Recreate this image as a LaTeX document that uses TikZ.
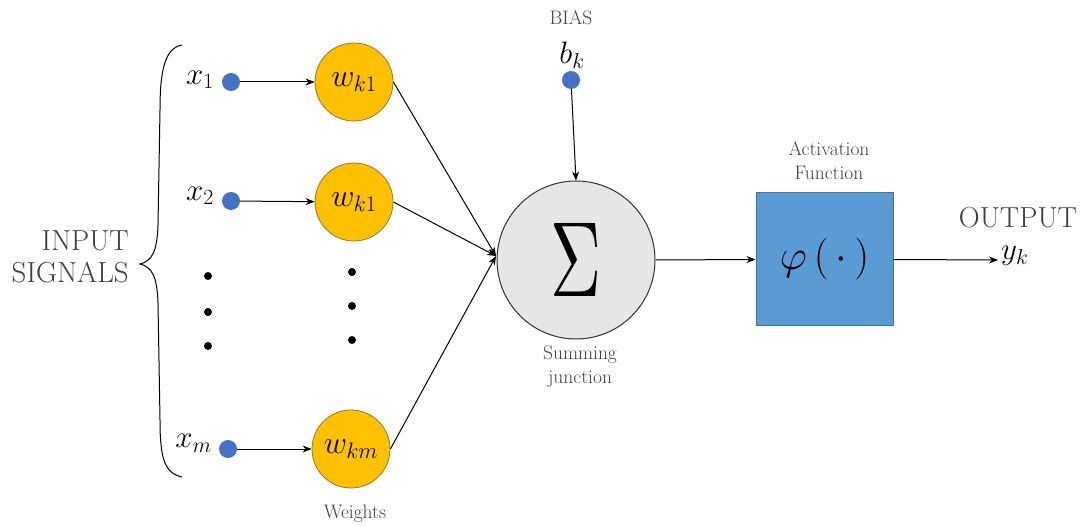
\RequirePackage{fix-cm}
\documentclass[tikz,border=0pt]{standalone}
\usepackage{graphicx}
\usetikzlibrary{arrows.meta}
\definecolor{dotblue}{HTML}{4472C4}
\definecolor{wgold}{HTML}{FFC000}
\definecolor{wedge}{HTML}{8C7A3A}
\definecolor{sumgray}{HTML}{E6E6E6}
\definecolor{boxblue}{HTML}{5B9BD5}
\definecolor{boxedge}{HTML}{41719C}
\definecolor{labelgray}{HTML}{404040}
\tikzset{
  indot/.style={circle,fill=dotblue,inner sep=0pt,minimum size=18pt},
  weightnode/.style={circle,fill=wgold,draw=wedge,line width=0.8pt,minimum size=78pt,inner sep=0pt,
    font=\fontsize{32}{36}\selectfont},
  sumnode/.style={circle,fill=sumgray,draw=black!80,line width=1pt,minimum size=158pt,inner sep=0pt},
  actbox/.style={rectangle,fill=boxblue,draw=boxedge,line width=1pt,minimum width=137pt,minimum height=133pt,inner sep=0pt},
  bigtext/.style={text=labelgray,font=\fontsize{29}{32}\selectfont,inner sep=0pt},
  smalltext/.style={text=labelgray,font=\fontsize{19.5}{24}\selectfont,inner sep=0pt,align=center},
  mathlabel/.style={font=\fontsize{31}{34}\selectfont,inner sep=0pt},
  ell/.style={circle,fill=black,inner sep=0pt,minimum size=8pt},
  conn/.style={line width=1pt,-{Stealth[length=9pt,width=7pt]}}
}
\begin{document}
\begin{tikzpicture}[x=1pt,y=-1pt]
\useasboundingbox (0,0) rectangle (1081,526);

% input brace
\draw[line width=1pt] (182,45) .. controls (165,48) and (160,70) .. (160,110)
  -- (158,225) .. controls (157,252) and (152,261) .. (140,264)
  .. controls (152,267) and (157,276) .. (158,303)
  -- (160,420) .. controls (160,460) and (165,473) .. (182,477);
\node[bigtext,align=right,anchor=east] (inlab) at (129,257) {INPUT\\SIGNALS};

% inputs
\node[indot] (x1) at (231,82) {};
\node[indot] (x2) at (231,201) {};
\node[indot] (xm) at (228,449) {};
\node[mathlabel,anchor=east] (x1l) at (214,80) {$x_1$};
\node[mathlabel,anchor=east] (x2l) at (214,196) {$x_2$};
\node[mathlabel,anchor=east] (xml) at (212,443) {$x_m$};

% vertical ellipses
\node[ell] (e1) at (208,276) {};
\node[ell] (e2) at (208,312) {};
\node[ell] (e3) at (208,346) {};
\node[ell] (f1) at (352,272) {};
\node[ell] (f2) at (352,306) {};
\node[ell] (f3) at (352,340) {};

% weights
\node[weightnode] (w1) at (354,82) {$w_{k1}$};
\node[weightnode] (w2) at (354,202) {$w_{k1}$};
\node[weightnode] (wm) at (351,449) {$w_{km}$};
\node[smalltext] (wlab) at (355,514) {Weights};

\draw[conn] (x1) -- (w1);
\draw[conn] (x2) -- (w2);
\draw[conn] (xm) -- (wm);

% summing junction
\node[sumnode] (sum) at (576,260) {\resizebox{51pt}{73pt}{$\Sigma$}};
\node[smalltext] (sumlab) at (580,367) {Summing\\junction};
\coordinate (sin) at (496,256);
\draw[conn] (w1.east) -- (sin);
\draw[conn] (w2.east) -- (sin);
\draw[conn] (wm.east) -- (sin);

% bias
\node[indot] (bias) at (571,80) {};
\node[mathlabel] (bk) at (572,55) {$b_k$};
\node[smalltext] (biaslab) at (571,18) {BIAS};
\draw[conn] (bias) -- (sum.north);

% activation
\node[actbox] (act) at (824.5,259.5) {\fontsize{42}{46}\selectfont$\varphi\,(\,\cdot\,)$};
\node[smalltext] (actlab) at (829,161) {Activation\\Function};
\draw[conn] (sum.east) -- (act.west);

% output
\coordinate (outend) at (998,260);
\draw[conn] (act.east) -- (outend);
\node[mathlabel,anchor=west] (yk) at (1001,256) {$y_k$};
\node[bigtext] (outlab) at (1018,218) {OUTPUT};
\end{tikzpicture}
\end{document}
